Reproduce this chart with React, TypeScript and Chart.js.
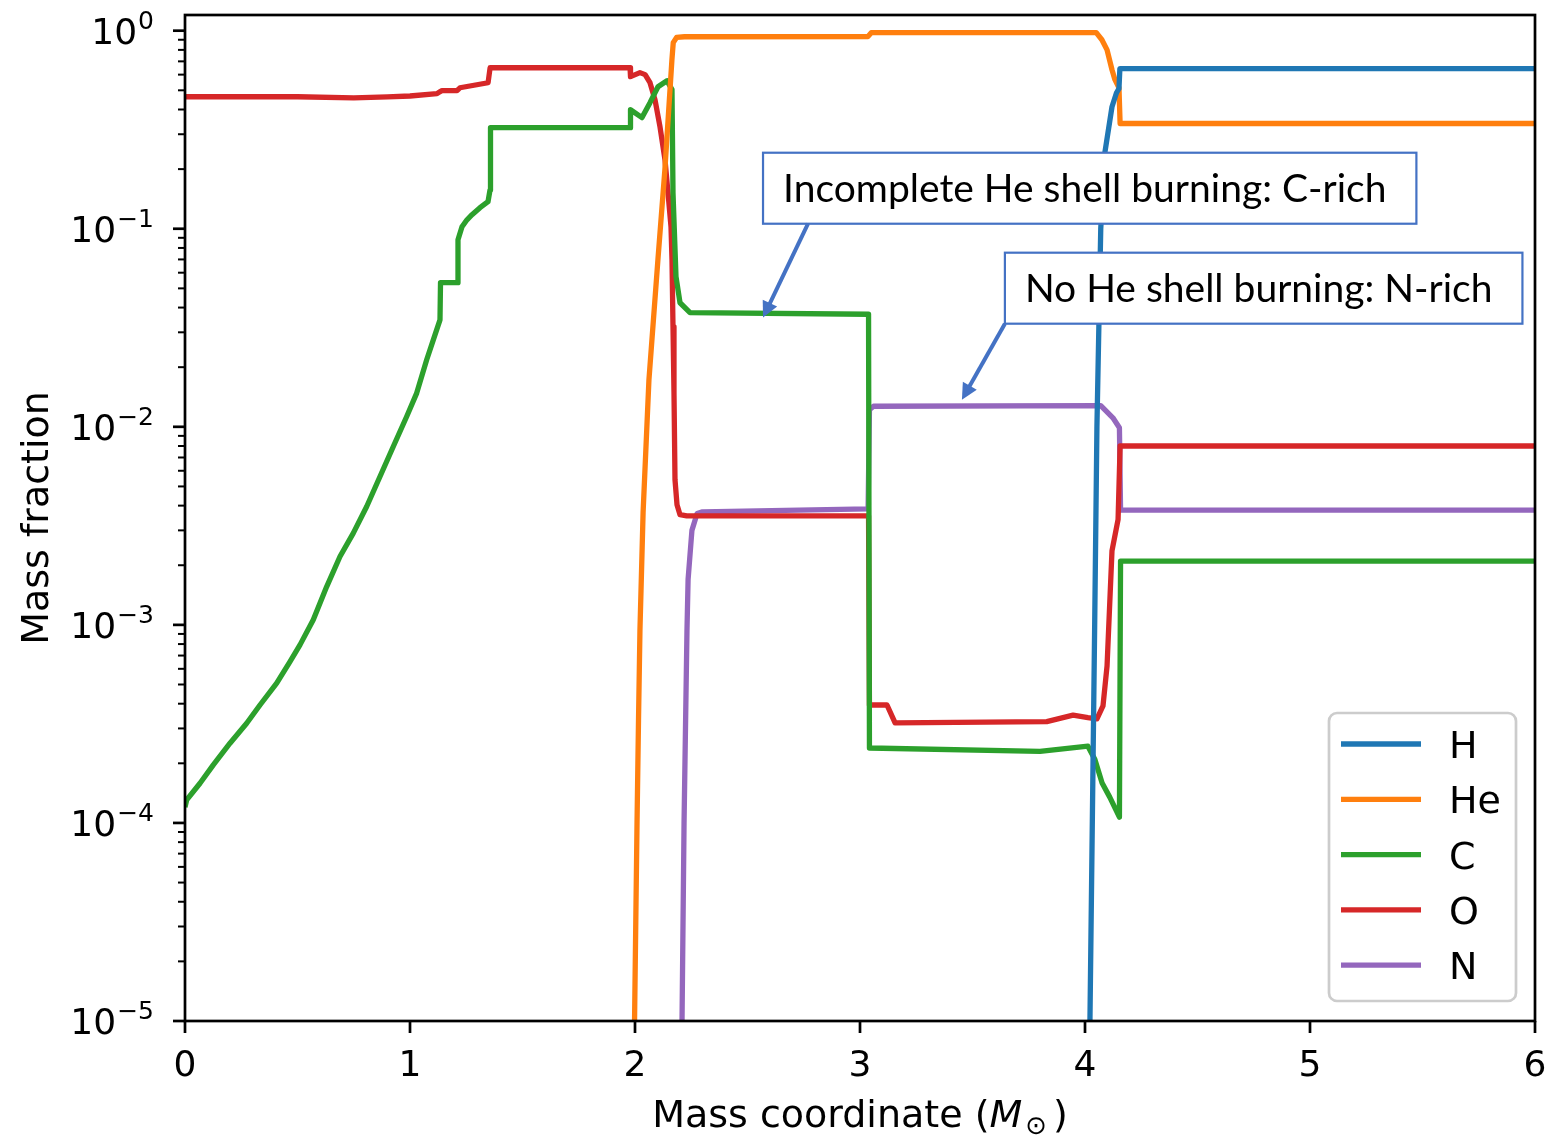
import { useEffect, useRef } from 'react';
import { Chart, registerables } from 'chart.js';

Chart.register(...registerables);

// Abundance profiles: [mass coordinate (Msun), mass fraction]
const hydrogen: [number, number][] = [
  [4.022, 1e-5], [4.043, 1e-3], [4.053, 1e-2], [4.07, 0.1], [4.089, 0.245],
  [4.12, 0.413], [4.14, 0.486], [4.151, 0.51], [4.155, 0.643], [6, 0.643],
];

const helium: [number, number][] = [
  [1.998, 1e-5], [2.009, 1e-4], [2.0156, 3.3e-4], [2.022, 9.4e-4], [2.036, 3.7e-3],
  [2.062, 0.0173], [2.102, 0.07], [2.133, 0.2], [2.164, 0.71], [2.17, 0.87],
  [2.185, 0.925], [2.22, 0.932], [3.035, 0.933], [3.05, 0.977], [4.05, 0.977],
  [4.075, 0.9], [4.098, 0.8], [4.12, 0.635], [4.133, 0.566], [4.151, 0.515],
  [4.156, 0.34], [6, 0.34],
];

const carbon: [number, number][] = [
  [0, 1.2e-4], [0.0076, 1.306e-4], [0.0667, 1.586e-4], [0.1258, 1.963e-4], [0.2, 2.527e-4],
  [0.2742, 3.188e-4], [0.3333, 3.94e-4], [0.4076, 5.076e-4], [0.4667, 6.526e-4], [0.5111, 7.925e-4],
  [0.5702, 1.06e-3], [0.6298, 1.561e-3], [0.6889, 2.213e-3], [0.748, 2.904e-3], [0.8076, 3.958e-3],
  [0.8667, 5.61e-3], [0.9258, 7.95e-3], [0.9853, 0.01127], [1.0298, 0.0148], [1.0742, 0.0218],
  [1.1036, 0.0275], [1.1333, 0.0347], [1.1356, 0.0534], [1.2111, 0.0534], [1.2133, 0.088],
  [1.2311, 0.1023], [1.2533, 0.111], [1.2756, 0.1177], [1.3111, 0.1277], [1.3467, 0.1369],
  [1.3556, 0.157], [1.3578, 0.324], [1.978, 0.324], [1.98, 0.399], [2.0311, 0.364],
  [2.0667, 0.433], [2.1022, 0.521], [2.1422, 0.559], [2.1644, 0.504], [2.1689, 0.152],
  [2.1822, 0.0573], [2.2, 0.0423], [2.2444, 0.0377], [3.038, 0.037], [3.042, 2.39e-4],
  [3.8, 2.3e-4], [4.013, 2.44e-4], [4.044, 2.09e-4], [4.076, 1.59e-4], [4.11, 1.35e-4],
  [4.153, 1.07e-4], [4.158, 2.1e-3], [6, 2.1e-3],
];

const oxygen: [number, number][] = [
  [0, 0.464], [0.5, 0.464], [0.75, 0.458], [0.9, 0.463], [1.0, 0.468],
  [1.12, 0.481], [1.13, 0.49], [1.142, 0.498], [1.209, 0.498], [1.222, 0.515],
  [1.347, 0.546], [1.356, 0.65], [1.978, 0.65], [1.98, 0.586], [2.022, 0.614],
  [2.045, 0.6], [2.0667, 0.546], [2.0889, 0.448], [2.1111, 0.327], [2.1333, 0.223],
  [2.1467, 0.152], [2.16, 0.1023], [2.1644, 0.0697], [2.1689, 0.032], [2.1733, 0.01485],
  [2.1778, 5.4e-3], [2.1867, 4.04e-3], [2.2, 3.6e-3], [2.23, 3.55e-3], [3.038, 3.55e-3],
  [3.042, 3.94e-4], [3.12, 3.94e-4], [3.156, 3.2e-4], [3.83, 3.25e-4], [3.947, 3.5e-4],
  [4.013, 3.4e-4], [4.053, 3.35e-4], [4.08, 3.9e-4], [4.098, 6.2e-4], [4.12, 2.37e-3],
  [4.147, 3.4e-3], [4.156, 8.0e-3], [6, 8.0e-3],
];

const nitrogen: [number, number][] = [
  [2.209, 1e-5], [2.218, 1e-4], [2.231, 9.4e-4], [2.236, 1.7e-3], [2.253, 3.0e-3],
  [2.276, 3.65e-3], [2.3, 3.72e-3], [3.036, 3.85e-3], [3.042, 0.0122], [3.06, 0.0127],
  [4.07, 0.0128], [4.124, 0.0111], [4.153, 9.9e-3], [4.158, 3.8e-3], [6, 3.8e-3],
];

const elementLabels = ['H', 'He', 'C', 'O', 'N'];
const elementColors = ['#1f77b4', '#ff7f0e', '#2ca02c', '#d62728', '#9467bd'];
const profiles = [hydrogen, helium, carbon, oxygen, nitrogen];

const xTicks = [0, 1, 2, 3, 4, 5, 6];
const yDecades = [0, -1, -2, -3, -4, -5];

const callouts = [
  { text: 'Incomplete He shell burning: C-rich', corner: [2.569, 0.242], tail: [2.769, 0.106], tip: [2.569, 0.0356] },
  { text: 'No He shell burning: N-rich', corner: [3.644, 0.0757], tail: [3.644, 0.0331], tip: [3.453, 0.0137] },
];

const FONT = '"DejaVu Sans", sans-serif';
const CALLOUT_BLUE = '#4472C4';

function drawArrow(ctx: CanvasRenderingContext2D, x1: number, y1: number, x2: number, y2: number) {
  const ang = Math.atan2(y2 - y1, x2 - x1);
  const head = 16;
  const half = 8;
  ctx.save();
  ctx.strokeStyle = CALLOUT_BLUE;
  ctx.fillStyle = CALLOUT_BLUE;
  ctx.lineWidth = 4;
  ctx.beginPath();
  ctx.moveTo(x1, y1);
  ctx.lineTo(x2 - Math.cos(ang) * head * 0.8, y2 - Math.sin(ang) * head * 0.8);
  ctx.stroke();
  ctx.beginPath();
  ctx.moveTo(x2, y2);
  ctx.lineTo(x2 - Math.cos(ang) * head + Math.sin(ang) * half, y2 - Math.sin(ang) * head - Math.cos(ang) * half);
  ctx.lineTo(x2 - Math.cos(ang) * head - Math.sin(ang) * half, y2 - Math.sin(ang) * head + Math.cos(ang) * half);
  ctx.closePath();
  ctx.fill();
  ctx.restore();
}

const decor = {
  id: 'decor',
  afterDraw(chart: any) {
    const { ctx, chartArea: a, scales } = chart;
    const xs = scales.x;
    const ys = scales.y;
    ctx.save();

    // axes frame
    ctx.strokeStyle = '#000';
    ctx.lineWidth = 2.7;
    ctx.strokeRect(a.left, a.top, a.right - a.left, a.bottom - a.top);

    // x ticks + labels
    ctx.fillStyle = '#000';
    ctx.font = `36px ${FONT}`;
    ctx.textAlign = 'center';
    ctx.textBaseline = 'alphabetic';
    for (const v of xTicks) {
      const px = xs.getPixelForValue(v);
      ctx.beginPath();
      ctx.moveTo(px, a.bottom);
      ctx.lineTo(px, a.bottom + 12);
      ctx.stroke();
      ctx.fillText(String(v), px, a.bottom + 55);
    }

    // y minor ticks
    ctx.lineWidth = 2;
    for (let e = -5; e <= 0; e++) {
      for (let m = 2; m <= 9; m++) {
        const v = m * Math.pow(10, e);
        if (v > ys.max) continue;
        const py = ys.getPixelForValue(v);
        ctx.beginPath();
        ctx.moveTo(a.left - 7, py);
        ctx.lineTo(a.left, py);
        ctx.stroke();
      }
    }
    // y major ticks + 10^n labels
    ctx.lineWidth = 2.7;
    const labelRight = a.left - 31;
    for (const e of yDecades) {
      const py = ys.getPixelForValue(Math.pow(10, e));
      ctx.beginPath();
      ctx.moveTo(a.left - 12, py);
      ctx.lineTo(a.left, py);
      ctx.stroke();
      const exp = e < 0 ? `\u2212${-e}` : String(e);
      ctx.textAlign = 'right';
      ctx.font = `25px ${FONT}`;
      const supW = ctx.measureText(exp).width;
      ctx.fillText(exp, labelRight, py + 13 - 15);
      ctx.font = `36px ${FONT}`;
      ctx.fillText('10', labelRight - supW - 1, py + 13);
    }

    // x axis title with M_sun
    const cx = (a.left + a.right) / 2;
    const base = a.bottom + 106;
    const parts = [
      { t: 'Mass coordinate (', f: `38px ${FONT}`, dy: 0, gap: 0 },
      { t: 'M', f: `oblique 38px ${FONT}`, dy: 0, gap: 3 },
      { t: '\u2299', f: `26px ${FONT}`, dy: 7, gap: 6 },
      { t: ')', f: `38px ${FONT}`, dy: 0, gap: 0 },
    ];
    let total = 0;
    const widths: number[] = [];
    for (const p of parts) {
      ctx.font = p.f;
      const w = ctx.measureText(p.t).width;
      widths.push(w);
      total += w + p.gap;
    }
    let xx = cx - total / 2;
    ctx.textAlign = 'left';
    parts.forEach((p, i) => {
      ctx.font = p.f;
      ctx.fillText(p.t, xx, base + p.dy);
      xx += widths[i] + p.gap;
    });

    // y axis title
    ctx.save();
    ctx.translate(48, (a.top + a.bottom) / 2);
    ctx.rotate(-Math.PI / 2);
    ctx.font = `38px ${FONT}`;
    ctx.textAlign = 'center';
    ctx.fillText('Mass fraction', 0, 0);
    ctx.restore();

    // legend
    const lw = 187;
    const lh = 288;
    const lx = a.right - 19 - lw;
    const ly = a.bottom - 20 - lh;
    ctx.beginPath();
    ctx.roundRect(lx, ly, lw, lh, 8);
    ctx.fillStyle = 'rgba(255,255,255,0.8)';
    ctx.fill();
    ctx.strokeStyle = '#cccccc';
    ctx.lineWidth = 2.7;
    ctx.stroke();
    chart.data.datasets.forEach((ds: any, i: number) => {
      const ry = ly + 31 + i * 55.3;
      ctx.strokeStyle = ds.borderColor;
      ctx.lineWidth = 5.3;
      ctx.beginPath();
      ctx.moveTo(lx + 12, ry);
      ctx.lineTo(lx + 92, ry);
      ctx.stroke();
      ctx.fillStyle = '#000';
      ctx.font = `38px ${FONT}`;
      ctx.textAlign = 'left';
      ctx.fillText(ds.label, lx + 120, ry + 14);
    });

    // callouts
    for (const c of callouts) {
      const bx = xs.getPixelForValue(c.corner[0]);
      const by = ys.getPixelForValue(c.corner[1]);
      ctx.font = '39px Lato, sans-serif';
      const tw = ctx.measureText(c.text).width;
      const bw = tw + 50;
      const bh = 71;
      ctx.fillStyle = '#fff';
      ctx.fillRect(bx, by, bw, bh);
      ctx.strokeStyle = CALLOUT_BLUE;
      ctx.lineWidth = 2.2;
      ctx.strokeRect(bx, by, bw, bh);
      ctx.fillStyle = '#000';
      ctx.textAlign = 'left';
      ctx.textBaseline = 'middle';
      ctx.fillText(c.text, bx + 20, by + bh / 2 + 1);
      ctx.textBaseline = 'alphabetic';
      drawArrow(
        ctx,
        xs.getPixelForValue(c.tail[0]), ys.getPixelForValue(c.tail[1]),
        xs.getPixelForValue(c.tip[0]), ys.getPixelForValue(c.tip[1]),
      );
    }
    ctx.restore();
  },
};

export default function App() {
  const ref = useRef<HTMLCanvasElement>(null);
  useEffect(() => {
    const canvas = ref.current;
    if (!canvas) return;
    const chart = new Chart(canvas, {
      type: 'line',
      data: {
        datasets: profiles.map((pts, i) => ({
          label: elementLabels[i],
          data: pts.map(([x, y]) => ({ x, y })),
          borderColor: elementColors[i],
          backgroundColor: elementColors[i],
          borderWidth: 5.3,
          pointRadius: 0,
          tension: 0,
          fill: false,
          borderJoinStyle: 'round',
          clip: 0,
        })),
      },
      options: {
        responsive: false,
        animation: false,
        devicePixelRatio: 1,
        layout: { padding: { left: 185, right: 15, top: 15, bottom: 114 } },
        scales: {
          x: { type: 'linear', min: 0, max: 6, display: false },
          y: { type: 'logarithmic', min: 1e-5, max: 1.2, display: false },
        },
        plugins: { legend: { display: false }, tooltip: { enabled: false } },
      },
      plugins: [decor],
    } as any);
    return () => chart.destroy();
  }, []);
  return (
    <div style={{ position: 'absolute', left: 0, top: 0, width: 1550, height: 1135, background: '#fff' }}>
      <canvas ref={ref} width={1550} height={1135} style={{ display: 'block' }} />
    </div>
  );
}
